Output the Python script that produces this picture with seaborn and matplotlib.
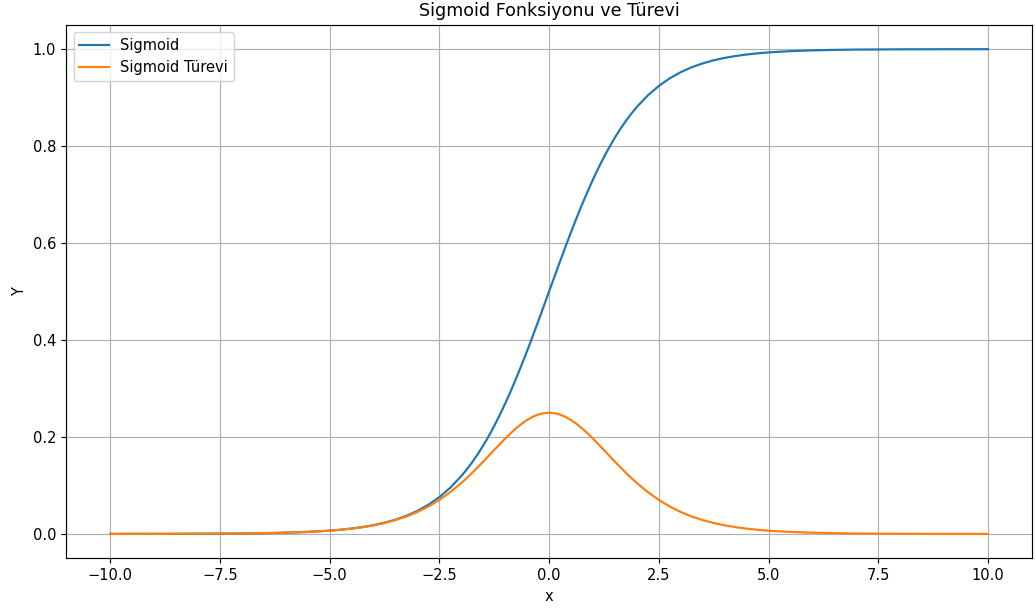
import matplotlib
matplotlib.use("Agg")
import matplotlib.pyplot as plt
import seaborn as sns
import pandas as pd

x_vals = [-10, -9.5, -9, -8.5, -8, -7.5, -7, -6.5, -6, -5.5, -5, -4.75, -4.5, -4.25, -4,
          -3.75, -3.5, -3.25, -3, -2.75, -2.5, -2.25, -2, -1.875, -1.75, -1.625, -1.5, -1.375,
          -1.25, -1.125, -1, -0.875, -0.75, -0.625, -0.5, -0.375, -0.25, -0.125, 0,
          0.125, 0.25, 0.375, 0.5, 0.625, 0.75, 0.875, 1, 1.125, 1.25, 1.375, 1.5, 1.625,
          1.75, 1.875, 2, 2.25, 2.5, 2.75, 3,
          3.25, 3.5, 3.75, 4, 4.25, 4.5, 4.75, 5, 5.5, 6, 6.5, 7, 7.5, 8, 8.5, 9, 9.5, 10]

sigmoid_vals = [0.0000, 0.0001, 0.0001, 0.0002, 0.0003, 0.0006, 0.0009, 0.0015, 0.0025, 0.0041,
                0.0067, 0.0086, 0.0110, 0.0141, 0.0180, 0.0230, 0.0293, 0.0373, 0.0474, 0.0601,
                0.0759, 0.0953, 0.1192, 0.1330, 0.1480, 0.1645, 0.1824, 0.2018, 0.2227, 0.2451,
                0.2689, 0.2942, 0.3208, 0.3486, 0.3775, 0.4073, 0.4378, 0.4688, 0.5000,
                0.5312, 0.5622, 0.5927, 0.6225, 0.6514, 0.6792, 0.7058, 0.7311, 0.7549, 0.7773,
                0.7982, 0.8176, 0.8355, 0.8520, 0.8670, 0.8808, 0.9047,
                0.9241, 0.9399, 0.9526, 0.9627, 0.9707, 0.9770, 0.9820, 0.9859, 0.9890, 0.9914,
                0.9933, 0.9959, 0.9975, 0.9985, 0.9991, 0.9994, 0.9997, 0.9998, 0.9999, 0.9999, 1.0000]

derivative_vals = [0.0000, 0.0001, 0.0001, 0.0002, 0.0003, 0.0006, 0.0009, 0.0015, 0.0025, 0.0041,
                   0.0066, 0.0085, 0.0109, 0.0139, 0.0177, 0.0225, 0.0285, 0.0359, 0.0452, 0.0565,
                   0.0701, 0.0863, 0.1050, 0.1153, 0.1261, 0.1375, 0.1491, 0.1611, 0.1731, 0.1850,
                   0.1966, 0.2077, 0.2179, 0.2271, 0.2350, 0.2414, 0.2461, 0.2490, 0.2500,
                   0.2490, 0.2461, 0.2414, 0.2350, 0.2271, 0.2179, 0.2077, 0.1966, 0.1850, 0.1731,
                   0.1611, 0.1491, 0.1375, 0.1261, 0.1153, 0.1050, 0.0863,
                   0.0701, 0.0565, 0.0452, 0.0359, 0.0285, 0.0225, 0.0177, 0.0139, 0.0109, 0.0085,
                   0.0066, 0.0041, 0.0025, 0.0015, 0.0009, 0.0006, 0.0003, 0.0002, 0.0001, 0.0001, 0.0000]

df = pd.DataFrame({"x": x_vals, "sig": sigmoid_vals, "der": derivative_vals})

DPI = 105
fig, ax = plt.subplots(figsize=(1035 / DPI, 608 / DPI), dpi=DPI)
fig.subplots_adjust(left=0.064, right=0.997, bottom=0.082, top=0.959)

sns.lineplot(data=df, x="x", y="sig", ax=ax, color="#1f77b4", label="Sigmoid", linewidth=1.5)
sns.lineplot(data=df, x="x", y="der", ax=ax, color="#ff7f0e", label="Sigmoid Türevi", linewidth=1.5)

ax.set_title("Sigmoid Fonksiyonu ve Türevi", fontsize=12)
ax.set_xlabel("x")
ax.set_ylabel("Y")
ax.set_xlim(-11, 11)
ax.set_ylim(-0.05, 1.05)
ax.grid(True)
ax.legend(loc="upper left")

fig.savefig("out.png", dpi=DPI)
